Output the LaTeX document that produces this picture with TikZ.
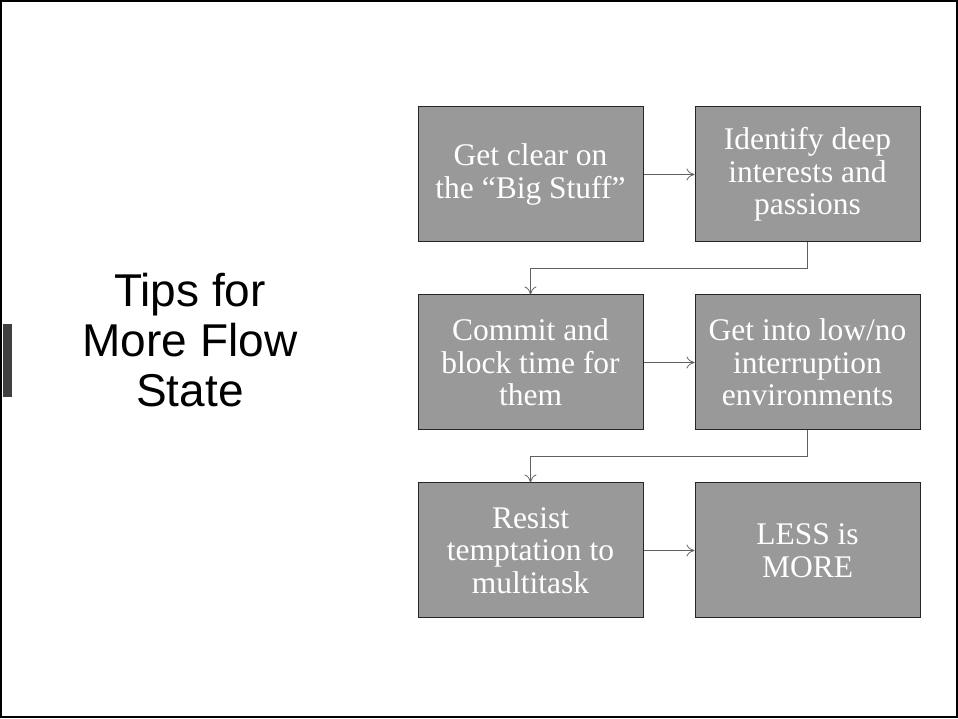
\documentclass[tikz,border=0pt]{standalone}
\usepackage{fontspec}
\setmainfont{Liberation Serif}
\newfontfamily\titlefont{Liberation Sans}
\usetikzlibrary{positioning, arrows.meta}

\definecolor{boxgray}{HTML}{999999}
\definecolor{edgegray}{HTML}{262626}
\definecolor{linkgray}{HTML}{606060}
\definecolor{bargray}{HTML}{404040}

\tikzset{
  tipbox/.style={draw=edgegray, line width=1pt, fill=boxgray, text=white,
    minimum width=225pt, minimum height=135pt, inner sep=0pt, align=center,
    font=\fontsize{31.5}{32.5}\selectfont},
  link/.style={draw=linkgray, line width=0.8pt, -{To[length=8pt,width=12pt]}}
}

\begin{document}
\begin{tikzpicture}[x=1pt,y=1pt]
\useasboundingbox (0,0) rectangle (958,719);
\draw[line width=2pt] (1,1.5) rectangle (957,717.5);
\fill[bargray] (3,322) rectangle (12,395);

\node[font=\titlefont\fontsize{46}{50}\selectfont, align=center] (title) at (190,379)
  {Tips for\\More Flow\\State};

\node[tipbox] (b1) at (530.5,544.5) {Get clear on\\the ``Big Stuff''};
\node[tipbox] (b2) [right=51pt of b1] {Identify deep\\interests and\\passions};
\node[tipbox] (b3) [below=52pt of b1] {Commit and\\block time for\\them};
\node[tipbox] (b4) [right=51pt of b3] {Get into low/no\\interruption\\environments};
\node[tipbox] (b5) [below=52pt of b3] {Resist\\temptation to\\multitask};
\node[tipbox] (b6) [right=51pt of b5] {LESS is\\MORE};

\draw[link] (b1) -- (b2);
\draw[link] (b2.south) -- ++(0,-26) -| (b3.north);
\draw[link] (b3) -- (b4);
\draw[link] (b4.south) -- ++(0,-26) -| (b5.north);
\draw[link] (b5) -- (b6);
\end{tikzpicture}
\end{document}
